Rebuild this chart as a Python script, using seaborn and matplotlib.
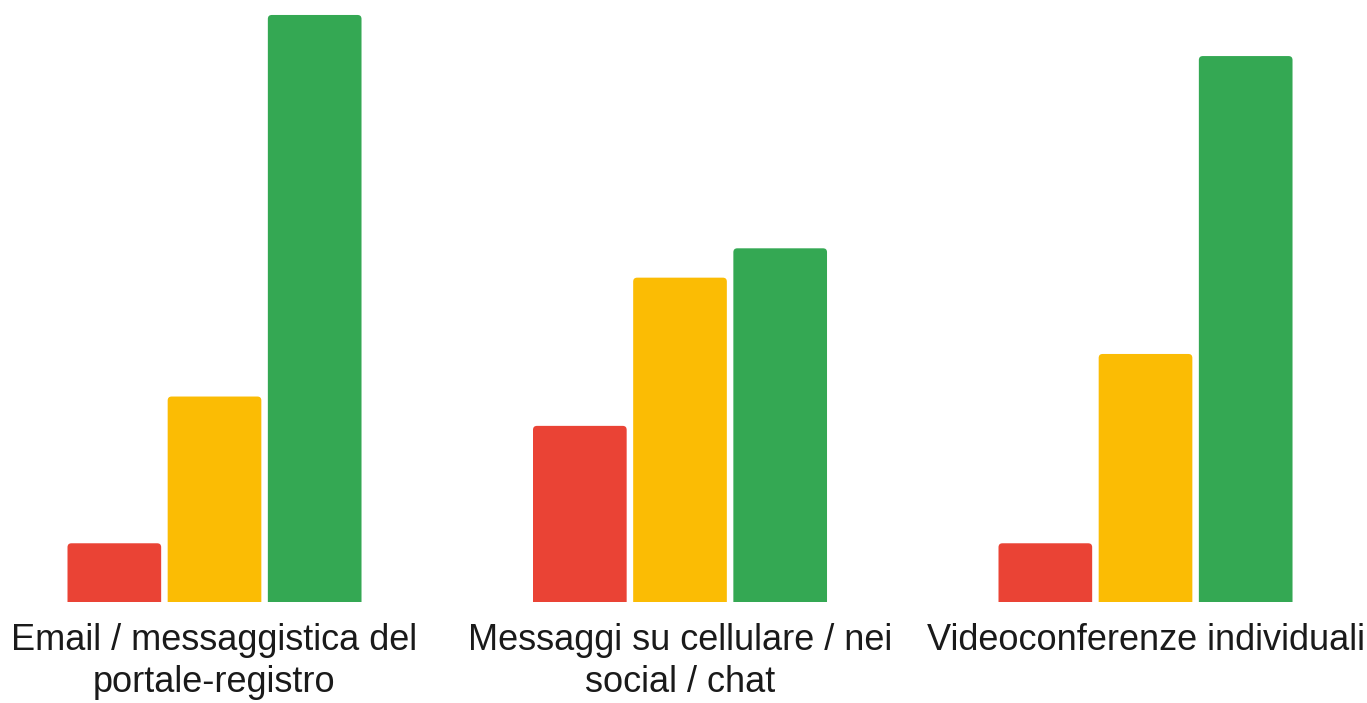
import pandas as pd
import matplotlib.pyplot as plt
import seaborn as sns
from matplotlib.patches import FancyBboxPatch

# data
channels = [
    "Email / messaggistica del\nportale-registro",
    "Messaggi su cellulare / nei\nsocial / chat",
    "Videoconferenze individuali",
]
levels = ["Poco", "Abbastanza", "Molto"]
poco = [2.0, 6.0, 2.0]
abbastanza = [7.0, 11.05, 8.45]
molto = [20.0, 12.05, 18.6]

colors = ["#EA4335", "#FBBC04", "#34A853"]

rows = []
for lvl, vals in zip(levels, [poco, abbastanza, molto]):
    for ch, v in zip(channels, vals):
        rows.append({"canale": ch, "livello": lvl, "valore": v})
df = pd.DataFrame(rows)

sns.set_style("white")
plt.rcParams["font.family"] = ["Liberation Sans", "DejaVu Sans"]

fig = plt.figure(figsize=(13.67, 7.03), dpi=100)
ax = fig.add_axes([0, 0.1437, 1, 0.8563])

sns.barplot(
    data=df, x="canale", y="valore", hue="livello",
    order=channels, hue_order=levels, palette=colors, saturation=1,
    width=0.6456, gap=0.065, legend=False, ax=ax,
    edgecolor="none", linewidth=0,
)

ax.set_xlim(-0.4608, 2.4758)
ax.set_ylim(0, 20.51)

# swap the plain rectangles for ones with slightly rounded tops
for bar in list(ax.patches):
    x, y = bar.get_x(), bar.get_y()
    w, h = bar.get_width(), bar.get_height()
    fc = bar.get_facecolor()
    bar.set_visible(False)
    r = 0.0085
    rounded = FancyBboxPatch(
        (x, y - 0.5), w, h + 0.5,
        boxstyle=f"round,pad=0,rounding_size={r}",
        mutation_aspect=15.8, facecolor=fc, edgecolor="none",
        clip_on=True,
    )
    ax.add_patch(rounded)

sns.despine(ax=ax, left=True, bottom=True)
ax.set_yticks([])
ax.set_xlabel("")
ax.set_ylabel("")
ax.tick_params(axis="x", length=0, pad=15, labelsize=26, labelcolor="#1a1a1a")
for lab in ax.get_xticklabels():
    lab.set_linespacing(1.25)

fig.savefig("out.png", dpi=100)
